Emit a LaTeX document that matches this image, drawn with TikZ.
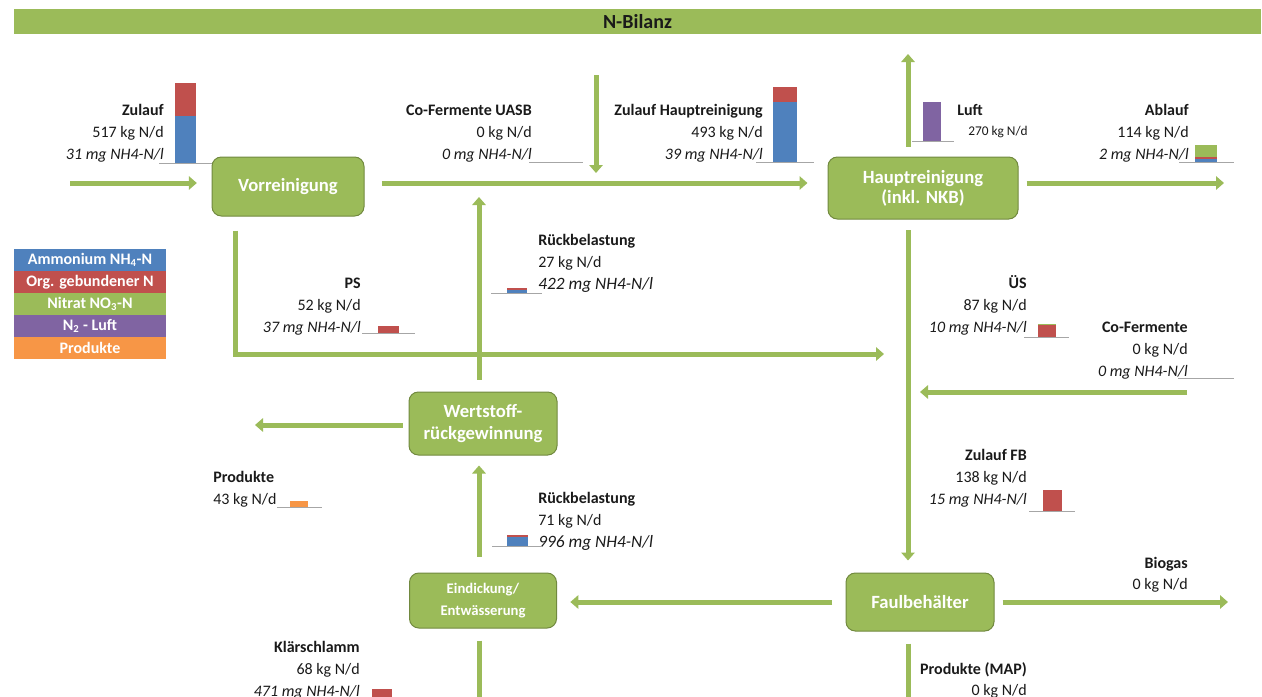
\documentclass[tikz,border=0pt]{standalone}
\usepackage{fontspec}
\setmainfont{Carlito}
\usetikzlibrary{arrows.meta}

\definecolor{nblue}{HTML}{4F81BD}
\definecolor{nred}{HTML}{C0504D}
\definecolor{ngreen}{HTML}{9BBB59}
\definecolor{npurple}{HTML}{8064A2}
\definecolor{norange}{HTML}{F79646}
\definecolor{nframe}{HTML}{71893F}
\definecolor{naxis}{HTML}{A6A6A6}
\definecolor{ntext}{HTML}{1A1A1A}

\tikzset{
  stage/.style={draw=nframe, line width=0.75pt, fill=ngreen, rounded corners=7pt,
    text=white, align=center, inner sep=0pt, font=\fontsize{14}{15}\selectfont\bfseries},
  flow/.style={draw=ngreen, line width=3.75pt, -{Triangle[length=6pt,width=10pt]}},
  lbl/.style={inner sep=0pt, text=ntext, font=\fontsize{12}{14}\selectfont},
  legend/.style={minimum width=114pt, minimum height=16.5pt, inner sep=0pt,
    text=white, font=\fontsize{12}{14}\selectfont\bfseries},
  axisline/.style={draw=naxis, line width=0.75pt}
}

% right aligned label block: name, x, y, title, load, concentration
\newcommand\infoR[6]{%
  \node[lbl, anchor=base east] (#1-t) at (#2,#3) {\textbf{#4}};
  \node[lbl, anchor=base east] (#1-k) at (#2,#3+22) {#5};
  \node[lbl, anchor=base east] (#1-c) at (#2,#3+44) {\textit{#6}};}
% left aligned label block
\newcommand\infoL[6]{%
  \node[lbl, anchor=base west] (#1-t) at (#2,#3) {\textbf{#4}};
  \node[lbl, anchor=base west] (#1-k) at (#2,#3+22) {#5};
  \node[lbl, anchor=base west, font=\fontsize{13}{15}\selectfont] (#1-c) at (#2,#3+44) {\textit{#6}};}

\begin{document}
\begin{tikzpicture}[x=0.75pt, y=-0.75pt]
  \useasboundingbox (0,0) rectangle (1262,696);
  \fill[white] (0,0) rectangle (1262,696);
  \clip (0,0) rectangle (1262,696);

  % title bar
  \node[fill=ngreen, minimum width=935.25pt, minimum height=18.75pt, inner sep=0pt,
    font=\fontsize{15}{17}\selectfont\bfseries, text=ntext] (title) at (637.5,21.5) {N-Bilanz};

  % stages
  \node[stage, minimum width=114pt, minimum height=44.25pt] (vor) at (288,186.5) {Vorreinigung};
  \node[stage, minimum width=142.5pt, minimum height=46.5pt] (haupt) at (923,188) {Hauptreinigung\\(inkl. NKB)};
  \node[stage, minimum width=111pt, minimum height=47.25pt, font=\fontsize{14}{16.5}\selectfont\bfseries]
    (wert) at (483,423.5) {Wertstoff-\\rückgewinnung};
  \node[stage, minimum width=110.25pt, minimum height=41.25pt, font=\fontsize{11}{17}\selectfont\bfseries]
    (eind) at (483,600.5) {Eindickung/\\Entwässerung};
  \node[stage, minimum width=111pt, minimum height=43.5pt] (faul) at (920,602) {Faulbehälter};

  % legend
  \node[legend, fill=nblue] (lg1) at (90,260) {Ammonium NH\textsubscript{4}-N};
  \node[legend, fill=nred] (lg2) at (90,282) {Org. gebundener N};
  \node[legend, fill=ngreen] (lg3) at (90,304) {Nitrat NO\textsubscript{3}-N};
  \node[legend, fill=npurple] (lg4) at (90,326) {N\textsubscript{2} - Luft};
  \node[legend, fill=norange] (lg5) at (90,348) {Produkte};

  % free ends
  \coordinate (zin) at (70,183);
  \coordinate (uasb) at (596,75);
  \coordinate (rbx) at (479,0);
  \coordinate (luftout) at (908,54);
  \coordinate (ablout) at (1224,183);
  \coordinate (psx) at (235,354);
  \coordinate (psend) at (884,354);
  \coordinate (cofin) at (1187,392);
  \coordinate (cofend) at (920,392);
  \coordinate (prodout) at (255,425);
  \coordinate (bioout) at (1228,602);
  \coordinate (klsout) at (479,720);
  \coordinate (mapout) at (908,720);

  % flows
  \draw[flow, shorten >=11pt] (zin) -- (zin -| vor.west);
  \draw[flow, shorten <=13pt, shorten >=15pt] (zin -| vor.east) -- (zin -| haupt.west);
  \draw[flow, shorten >=7.5pt] (uasb) -- (uasb |- zin);
  \draw[flow, shorten <=9pt, shorten >=10.5pt] (rbx |- wert.north) -- (rbx |- zin);
  \draw[flow, shorten <=7.5pt] (luftout |- haupt.north) -- (luftout);
  \draw[flow, shorten <=6pt] (ablout -| haupt.east) -- (ablout);
  \draw[flow, shorten <=10.5pt] (psx |- vor.south) -- (psx) -- (psend);
  \draw[flow, shorten <=8pt, shorten >=9pt] (luftout |- haupt.south) -- (luftout |- faul.north);
  \draw[flow] (cofin) -- (cofend);
  \draw[flow, shorten <=4.5pt] (prodout -| wert.west) -- (prodout);
  \draw[flow, shorten <=12pt, shorten >=7.5pt] (rbx |- eind.north) -- (rbx |- wert.south);
  \draw[flow, shorten <=10pt, shorten >=10pt] (faul.west) -- (faul.west -| eind.east);
  \draw[flow, shorten <=6pt] (faul.east) -- (bioout);
  \draw[flow, shorten <=9pt] (rbx |- eind.south) -- (klsout);
  \draw[flow, shorten <=9pt] (luftout |- faul.south) -- (mapout);

  % labels
  \infoR{zul}{164}{115}{Zulauf}{517 kg N/d}{31 mg NH4-N/l}
  \infoR{cfu}{532}{115}{Co-Fermente UASB}{0 kg N/d}{0 mg NH4-N/l}
  \infoR{zhr}{763}{115}{Zulauf Hauptreinigung}{493 kg N/d}{39 mg NH4-N/l}
  \node[lbl, anchor=base west] (luft-t) at (957,115) {\textbf{Luft}};
  \node[lbl, anchor=base west, font=\fontsize{10}{12}\selectfont] (luft-k) at (968,135) {270 kg N/d};
  \infoR{abl}{1189}{115}{Ablauf}{114 kg N/d}{2 mg NH4-N/l}
  \infoR{ps}{361}{288}{PS}{52 kg N/d}{37 mg NH4-N/l}
  \infoL{rba}{538}{245}{Rückbelastung}{27 kg N/d}{422 mg NH4-N/l}
  \infoR{ues}{1027}{288}{ÜS}{87 kg N/d}{10 mg NH4-N/l}
  \infoR{cof}{1188}{332}{Co-Fermente}{0 kg N/d}{0 mg NH4-N/l}
  \node[lbl, anchor=base west] (prod-t) at (213,482) {\textbf{Produkte}};
  \node[lbl, anchor=base west] (prod-k) at (213,504) {43 kg N/d};
  \infoL{rbb}{538}{503}{Rückbelastung}{71 kg N/d}{996 mg NH4-N/l}
  \infoR{zfb}{1027}{460}{Zulauf FB}{138 kg N/d}{15 mg NH4-N/l}
  \node[lbl, anchor=base east] (bio-t) at (1188,568) {\textbf{Biogas}};
  \node[lbl, anchor=base east] (bio-k) at (1188,589) {0 kg N/d};
  \infoR{kls}{360}{652}{Klärschlamm}{68 kg N/d}{471 mg NH4-N/l}
  \node[lbl, anchor=base east] (map-t) at (1027,674) {\textbf{Produkte (MAP)}};
  \node[lbl, anchor=base east] (map-k) at (1027,695) {0 kg N/d};

  % small bar charts
  \fill[nred] (175,83) rectangle (196,116);
  \fill[nblue] (175,116) rectangle (196,163);
  \draw[axisline] (159,163) -- (212,163);
  \draw[axisline] (529,162) -- (583,162);
  \fill[nred] (773,87) rectangle (797,102);
  \fill[nblue] (773,102) rectangle (797,162);
  \draw[axisline] (756,162) -- (814,162);
  \fill[npurple] (923,102) rectangle (941,141);
  \draw[axisline] (912,141) -- (954,141);
  \fill[ngreen] (1195,145) rectangle (1217,157);
  \fill[nred] (1195,157) rectangle (1217,158.5);
  \fill[nblue] (1195,158.5) rectangle (1217,162);
  \draw[axisline] (1179,162) -- (1234,162);
  \fill[nred] (378,326) rectangle (399,333);
  \draw[axisline] (362,333) -- (415,333);
  \fill[nred] (507,288) rectangle (527,289.5);
  \fill[nblue] (507,289.5) rectangle (527,293);
  \draw[axisline] (491,293) -- (542,293);
  \fill[ngreen] (1038,324) rectangle (1056,325);
  \fill[nred] (1038,325) rectangle (1056,337);
  \draw[axisline] (1024,337) -- (1069,337);
  \draw[axisline] (1178,378) -- (1234,378);
  \fill[norange] (290,501) rectangle (308,507);
  \draw[axisline] (277,507) -- (322,507);
  \fill[nred] (507,535) rectangle (528,536.5);
  \fill[nblue] (507,536.5) rectangle (528,546);
  \draw[axisline] (492,546) -- (542,546);
  \fill[nred] (1043,490) rectangle (1062,511);
  \draw[axisline] (1029,511) -- (1075,511);
  \fill[nred] (372,689) rectangle (392,700);
\end{tikzpicture}
\end{document}
